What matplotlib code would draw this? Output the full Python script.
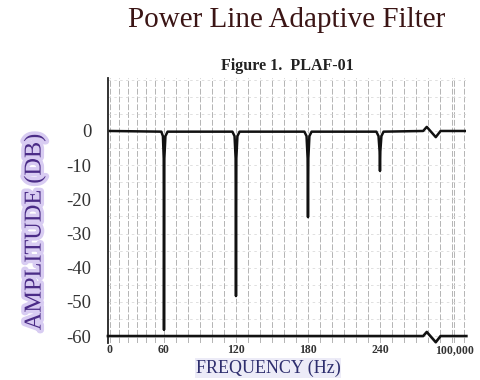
import numpy as np
import matplotlib
matplotlib.use("Agg")
import matplotlib.pyplot as plt
import matplotlib.patheffects as pe

# response trace (Hz on the broken axis, dB)
freq = [0, 57, 58.8, 59.7, 60, 60.3, 61.2, 63,
        117, 118.8, 119.7, 120, 120.3, 121.2, 123,
        177, 178.8, 179.7, 180, 180.3, 181.2, 183,
        237, 238.8, 239.7, 240, 240.3, 241.2, 243,
        276, 279, 286.5, 290.5, 312]
amp_db = [0, -0.2, -1.5, -8, -58.2, -8, -1.5, -0.2,
          -0.2, -1.5, -8, -48.3, -8, -1.5, -0.2,
          -0.2, -1.5, -8, -25.2, -8, -1.5, -0.2,
          -0.2, -1.5, -6, -11.7, -6, -1.5, -0.2,
          0, 1.2, -1.8, 0, 0]

# baseline at -60 dB with the break mark
base_freq = [-2.3, 276, 279, 286.5, 290.5, 312]
base_db = [-60, -60, -58.8, -61.8, -60, -60]

xtick_pos = [0, 60, 120, 180, 240, 302]
xtick_labels = ["0", "60", "120", "180", "240", "100,000"]
ytick_pos = [0, -10, -20, -30, -40, -50, -60]
ytick_labels = ["0", "-10", "-20", "-30", "-40", "-50", "-60"]

# the printed chart squeezes the first 60 Hz a little
hz_knots = [-20, 0, 60, 400]
pos_knots = [-16, 2, 56, 464]

def fwd(x):
    return np.interp(x, hz_knots, pos_knots)

def inv(x):
    return np.interp(x, pos_knots, hz_knots)

fig = plt.figure(figsize=(4.81, 3.80), dpi=100)
fig.patch.set_facecolor("white")
ax = fig.add_axes([108/481, 1-342.9/380, 358/481, (342.9-78)/380])
ax.set_xscale("function", functions=(fwd, inv))
ax.set_xlim(-2.22, 311.7)
ax.set_ylim(-62, 15.5)

ax.set_xticks(xtick_pos, labels=xtick_labels)
ax.set_xticks(np.arange(10, 311, 10), minor=True)
ax.set_yticks(ytick_pos, labels=ytick_labels)
ax.set_yticks(np.arange(-55, 16, 5), minor=True)
ax.grid(axis="x", which="both", color="#b4b4b4", lw=0.7, ls=(0, (6, 2)))
ax.grid(axis="y", which="both", color="#dadada", lw=0.6, ls=(0, (3, 4)))
ax.tick_params(which="both", length=0)
ax.tick_params(axis="y", pad=12, labelsize=13.5, labelcolor="#333333")
ax.tick_params(axis="x", pad=1, labelsize=8.5, labelcolor="#333333")
for lab in ax.get_yticklabels():
    lab.set_family("Liberation Serif")
for lab in ax.get_xticklabels():
    lab.set_family("Liberation Serif")
    lab.set_fontweight("bold")

for s in ["top", "right", "bottom"]:
    ax.spines[s].set_visible(False)
ax.spines["left"].set_linewidth(1.3)
ax.spines["left"].set_color("#222222")

ax.plot(freq, amp_db, color="#111111", lw=1.8, solid_joinstyle="round", zorder=3)
ax.plot(base_freq, base_db, color="#111111", lw=1.9, zorder=3, clip_on=False)

fig.text(287/481, 1-20/380, "Power Line Adaptive Filter", ha="center", va="center",
         fontsize=21, family="Liberation Serif", color="#3b1515")
fig.text(287/481, 1-66/380, "Figure 1.  PLAF-01", ha="center", va="center",
         fontsize=11.5, family="Liberation Serif", fontweight="bold", color="#222222")
fig.text(268/481, 1-368/380, "FREQUENCY (Hz)", ha="center", va="center",
         fontsize=13, family="Liberation Serif", color="#2e2e6e",
         bbox=dict(boxstyle="square,pad=0.05", fc="#ecebf7", ec="none"))
fig.text(35/481, 1-232/380, "AMPLITUDE (DB)", ha="center", va="center", rotation=90,
         fontsize=17.5, family="Liberation Serif", color="#4b2c87",
         path_effects=[pe.withStroke(linewidth=5, foreground="#d8ccf2")])

fig.savefig("out.png", dpi=100, facecolor="white")
